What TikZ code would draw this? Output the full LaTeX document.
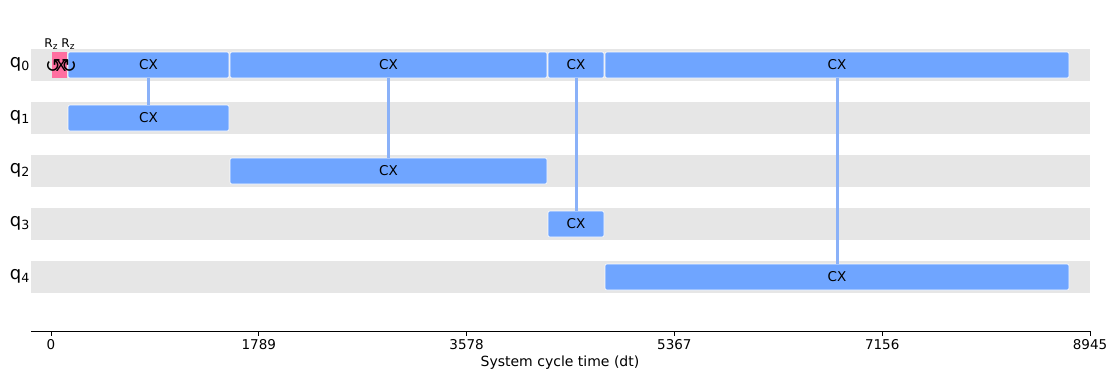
\documentclass[tikz,border=0pt]{standalone}
\usepackage{fontspec}
\setmainfont{DejaVu Sans}
\definecolor{band}{HTML}{E6E6E6}
\definecolor{cxblue}{HTML}{6FA5FF}
\definecolor{linkblue}{HTML}{8AB1F8}
\definecolor{sxpink}{HTML}{FF6FA0}
\begin{document}
\begin{tikzpicture}[x=1pt,y=-1pt,
  bandbox/.style={fill=band,draw=none},
  gatebox/.style={fill=cxblue,draw=white,line width=0.6pt,rounded corners=2pt,inner sep=0pt,minimum height=26pt,font=\fontsize{13.5}{13.5}\selectfont},
  sxbox/.style={fill=sxpink,draw=none,inner sep=0pt,minimum height=26pt,minimum width=15pt},
  link/.style={draw=linkblue,line width=3pt},
  qlabel/.style={anchor=east,font=\fontsize{18}{18}\selectfont,inner sep=0pt},
  ticklab/.style={anchor=north,font=\fontsize{13.5}{13.5}\selectfont,inner sep=0pt},
  rzlab/.style={font=\fontsize{12}{12}\selectfont,inner sep=0pt},
  sym/.style={font=\fontsize{19}{19}\selectfont,inner sep=0pt}
]
\useasboundingbox (0,0) rectangle (1120,384);
% bands
\foreach \y in {65,118,171,224,277}{
  \fill[band] (31,\y-16) rectangle (1090,\y+16);
}
% qubit labels
\node[qlabel] (q0) at (30,64) {q\textsubscript{0}};
\node[qlabel] (q1) at (30,117) {q\textsubscript{1}};
\node[qlabel] (q2) at (30,170) {q\textsubscript{2}};
\node[qlabel] (q3) at (30,223) {q\textsubscript{3}};
\node[qlabel] (q4) at (30,276) {q\textsubscript{4}};
% gates on q0
\node[gatebox,minimum width=161pt] (a0) at (148.5,65) {CX};
\node[gatebox,minimum width=317pt] (b0) at (388.5,65) {CX};
\node[gatebox,minimum width=56pt] (c0) at (576,65) {CX};
\node[gatebox,minimum width=464pt] (d0) at (837,65) {CX};
% target gates
\node[gatebox,minimum width=161pt] (a1) at (148.5,118) {CX};
\node[gatebox,minimum width=317pt] (b2) at (388.5,171) {CX};
\node[gatebox,minimum width=56pt] (c3) at (576,224) {CX};
\node[gatebox,minimum width=464pt] (d4) at (837,277) {CX};
% links
\draw[link] (a0.south) -- (a1.north);
\draw[link] (b0.south) -- (b2.north);
\draw[link] (c0.south) -- (c3.north);
\draw[link] (d0.south) -- (d4.north);
% sx and rz
\node[sxbox] (sx) at (59.5,65) {};
\node[sym,font=\fontsize{16}{16}\selectfont] (x) at (61,65.5) {X};
\node[sym] (rz1) at (53,66) {↺};
\node[sym] (rz2) at (69,66) {↻};
\node[rzlab] (rl1) at (51,44) {R\raisebox{-2pt}{\fontsize{9}{9}\selectfont z}};
\node[rzlab] (rl2) at (68,44) {R\raisebox{-2pt}{\fontsize{9}{9}\selectfont z}};
% axis
\coordinate (ax0) at (31,331);
\coordinate (ax1) at (1090,331);
\draw[line width=1pt] (ax0) -- (ax1);
\foreach \x/\t in {51/0,258.8/1789,466.6/3578,674.4/5367,882.2/7156,1090/8945}{
  \draw[line width=0.9pt] (\x,331) -- (\x,336);
  \node[ticklab] at (\x,339) {\t};
}
\node[font=\fontsize{14}{14}\selectfont] (xl) at (560,363) {System cycle time (dt)};
\end{tikzpicture}
\end{document}
